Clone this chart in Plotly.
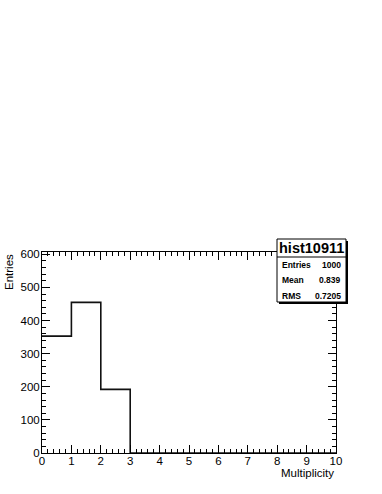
import plotly.graph_objects as go

# Data
bin_edges = [0, 1, 2, 3, 4, 5, 6, 7, 8, 9, 10]
bin_counts = [353, 455, 192, 0, 0, 0, 0, 0, 0, 0]
hist_name = "hist10911"
stats_labels = ["Entries", "Mean", "RMS"]
stats_values = ["1000", "0.839", "0.7205"]
x_title = "Multiplicity"
y_title = "Entries"

W, H = 382, 494
L, R, T, B = 42, 336, 252, 453

def px(x):
    return (x - L) / (R - L)

def py(y):
    return (B - y) / (B - T)

fig = go.Figure()
fig.add_trace(go.Scatter(
    x=bin_edges,
    y=bin_counts + [bin_counts[-1]],
    mode="lines",
    line=dict(shape="hv", color="#111111", width=1.6),
    hoverinfo="skip",
    showlegend=False,
))

font = "Liberation Sans, Arial, Helvetica, sans-serif"

axis_common = dict(
    showgrid=False, zeroline=False,
    showline=True, linecolor="black", linewidth=1,
    mirror="ticks", ticks="inside", tickcolor="black",
    tickfont=dict(family=font, size=11.5, color="black"),
)

fig.update_layout(
    width=W, height=H,
    margin=dict(l=L, r=W - R, t=T, b=H - B, pad=0),
    paper_bgcolor="white", plot_bgcolor="white",
    xaxis=dict(range=[0, 10], dtick=1, ticklen=8, ticklabelstandoff=-3,
               minor=dict(dtick=0.2, ticklen=4, ticks="inside", tickcolor="black"),
               **axis_common),
    yaxis=dict(range=[0, 607], dtick=100, ticklen=8, ticklabelstandoff=-1,
               minor=dict(dtick=20, ticklen=4, ticks="inside", tickcolor="black"),
               **axis_common),
)

# Axis titles
fig.add_annotation(text=x_title, xref="paper", yref="paper", x=1, y=py(473),
                   xanchor="right", yanchor="middle", showarrow=False,
                   font=dict(family=font, size=11.5, color="black"))
fig.add_annotation(text=y_title, xref="paper", yref="paper", x=px(9), y=py(252),
                   xanchor="center", yanchor="top", textangle=-90, showarrow=False,
                   font=dict(family=font, size=11.5, color="black"))

# Stats box
bx0, bx1, by0, by1 = 277, 346, 239, 302
sep = 257
fig.add_shape(type="rect", xref="paper", yref="paper",
              x0=px(bx0 + 2), x1=px(bx1 + 2), y0=py(by1 + 2), y1=py(by0 + 2),
              fillcolor="black", line=dict(width=0), layer="above")
fig.add_shape(type="rect", xref="paper", yref="paper",
              x0=px(bx0), x1=px(bx1), y0=py(by1), y1=py(by0),
              fillcolor="white", line=dict(color="black", width=1), layer="above")
fig.add_shape(type="line", xref="paper", yref="paper",
              x0=px(bx0), x1=px(bx1), y0=py(sep), y1=py(sep),
              line=dict(color="black", width=1), layer="above")
fig.add_annotation(text="<b>" + hist_name + "</b>", xref="paper", yref="paper",
                   x=px((bx0 + bx1) / 2), y=py(248), xanchor="center", yanchor="middle",
                   showarrow=False, font=dict(family=font, size=14.5, color="black"))
row_y = [265, 280, 296]
for lab, val, yy in zip(stats_labels, stats_values, row_y):
    fig.add_annotation(text="<b>" + lab + "</b>", xref="paper", yref="paper",
                       x=px(280), y=py(yy), xanchor="left", yanchor="middle",
                       showarrow=False, font=dict(family=font, size=8.5, color="black"))
    fig.add_annotation(text="<b>" + val + "</b>", xref="paper", yref="paper",
                       x=px(343), y=py(yy), xanchor="right", yanchor="middle",
                       showarrow=False, font=dict(family=font, size=8.5, color="black"))

fig.write_html("out.html", config={"displayModeBar": False})

# Remove default body margin so the figure sits at the window's top-left corner
with open("out.html", "r", encoding="utf-8") as f:
    html = f.read()
html = html.replace("<head>", "<head><style>html,body{margin:0;padding:0;}</style>", 1)
with open("out.html", "w", encoding="utf-8") as f:
    f.write(html)
